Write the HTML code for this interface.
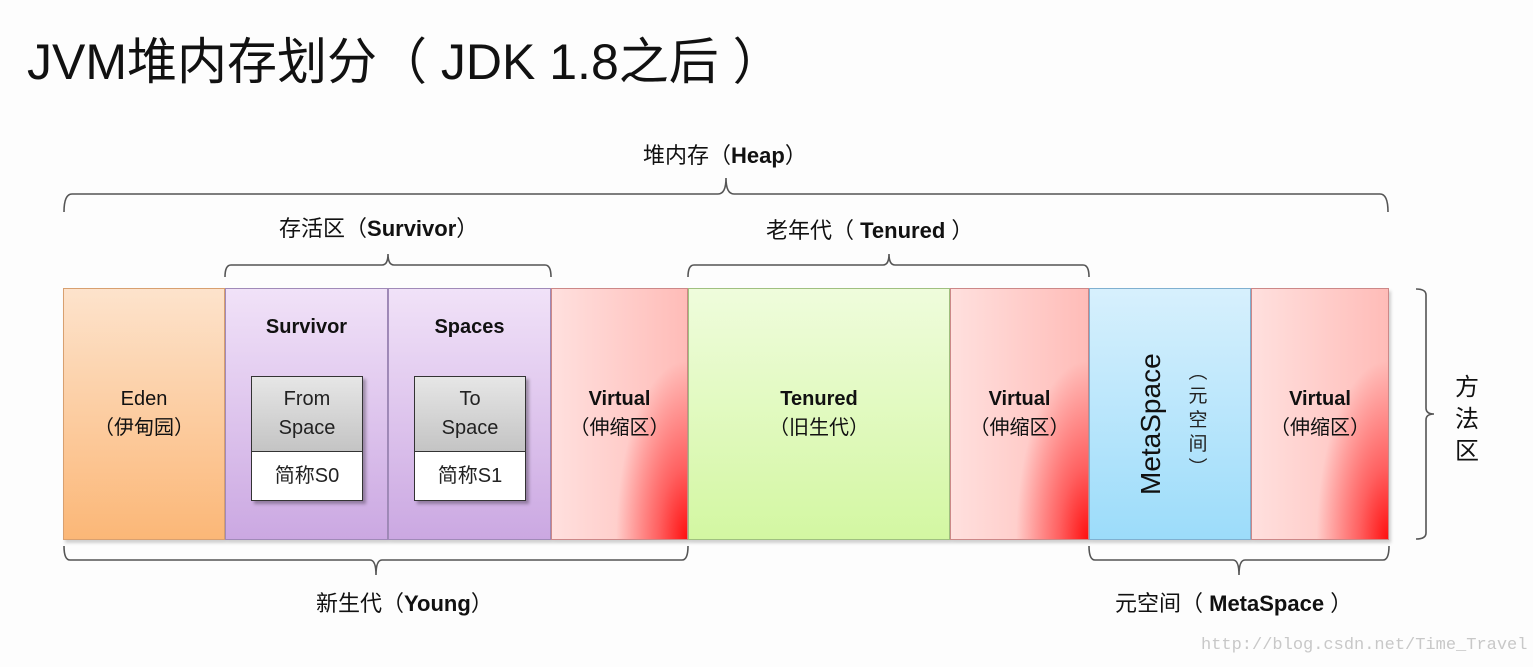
<!DOCTYPE html>
<html><head><meta charset="utf-8"><style>
*{margin:0;padding:0;box-sizing:border-box}
body{width:1533px;height:667px;background:#fdfdfd;position:relative;overflow:hidden;font-family:"Liberation Sans","Noto Sans CJK SC",sans-serif;color:#111}
.a{position:absolute}
.col{position:absolute;top:288px;height:252px;border:1px solid #a08ab8;box-shadow:2px 3px 3px rgba(0,0,0,.18)}
.lbl{position:absolute;width:100%;text-align:center;font-size:20px;line-height:29px}
.b{font-weight:bold}
.red{background:radial-gradient(ellipse 70% 95% at 100% 100%,#ff1010 0%,#ff6060 30%,rgba(255,170,170,0) 75%),linear-gradient(to right,#ffe0de,#ffbcb8);border-color:#c88}
.inner{position:absolute;width:112px;height:125px;border:1px solid #333;background:#fff;box-shadow:3px 3px 3px rgba(0,0,0,.3)}
.inner .g{height:75px;background:linear-gradient(#e6e6e6,#c4c4c4);border-bottom:1px solid #333;text-align:center;font-size:20px;line-height:29px;padding-top:8px;color:#222}
.inner .w{text-align:center;font-size:20px;line-height:48px;color:#222}
.t{position:absolute;font-size:22px;white-space:nowrap}
</style></head><body>
<div class="a" style="left:27px;top:30px;font-size:50px;line-height:64px;color:#111;white-space:nowrap">JVM堆内存划分（ JDK 1.8之后 ）</div>

<div class="t" style="left:643px;top:138px">堆内存（<b>Heap</b>）</div>
<div class="t" style="left:279px;top:211px">存活区（<b>Survivor</b>）</div>
<div class="t" style="left:766px;top:213px">老年代（ <b>Tenured</b> ）</div>
<div class="t" style="left:316px;top:586px">新生代（<b>Young</b>）</div>
<div class="t" style="left:1115px;top:586px">元空间（ <b>MetaSpace</b> ）</div>
<div class="a" style="left:1455px;top:372px;font-size:24px;line-height:32px;width:26px">方<br>法<br>区</div>

<svg class="a" style="left:0;top:0" width="1533" height="667" fill="none" stroke="#555" stroke-width="1.6">
<path d="M64 212 Q64 194 72 194 L718 194 Q726 194 726 178 Q726 194 734 194 L1380 194 Q1388 194 1388 212"/>
<path d="M225 277 Q225 265 231 265 L382 265 Q388 265 388 254 Q388 265 394 265 L545 265 Q551 265 551 277"/>
<path d="M688 277 Q688 265 694 265 L883 265 Q889 265 889 254 Q889 265 895 265 L1083 265 Q1089 265 1089 277"/>
<path d="M64 546 Q64 560 70 560 L370 560 Q376 560 376 575 Q376 560 382 560 L682 560 Q688 560 688 546"/>
<path d="M1089 546 Q1089 560 1095 560 L1233 560 Q1239 560 1239 575 Q1239 560 1245 560 L1383 560 Q1389 560 1389 546"/>
<path d="M1416 289 Q1426 289 1426 295 L1426 408 Q1426 414 1434 414 Q1426 414 1426 420 L1426 533 Q1426 539 1416 539"/>
</svg>

<div class="col" style="left:63px;width:162px;background:linear-gradient(#fde3cc,#fbb777);border-color:#d8a070"><div class="lbl" style="top:96px">Eden<br>（伊甸园）</div></div>
<div class="col" style="left:225px;width:163px;background:linear-gradient(#f1e2f8,#cba8e2)"><div class="lbl b" style="top:24px">Survivor</div>
<div class="inner" style="left:25px;top:87px"><div class="g">From<br>Space</div><div class="w">简称S0</div></div></div>
<div class="col" style="left:388px;width:163px;background:linear-gradient(#f1e2f8,#cba8e2)"><div class="lbl b" style="top:24px">Spaces</div>
<div class="inner" style="left:25px;top:87px"><div class="g">To<br>Space</div><div class="w">简称S1</div></div></div>
<div class="col red" style="left:551px;width:137px"><div class="lbl" style="top:96px"><b>Virtual</b><br>（伸缩区）</div></div>
<div class="col" style="left:688px;width:262px;background:linear-gradient(#effcdc,#d3f7a2);border-color:#a0c080"><div class="lbl" style="top:96px"><b>Tenured</b><br>（旧生代）</div></div>
<div class="col red" style="left:950px;width:139px"><div class="lbl" style="top:96px"><b>Virtual</b><br>（伸缩区）</div></div>
<div class="col" style="left:1089px;width:162px;background:linear-gradient(#d7f0fd,#9cdcfa);border-color:#80b0d0">
<div class="a" style="left:45px;top:206px;transform:rotate(-90deg);transform-origin:0 0;font-size:28px;line-height:32px;white-space:nowrap">MetaSpace</div>
<div class="a" style="left:98px;top:72px;width:20px;font-size:19px;line-height:24px;text-align:center;color:#222">︵<br>元<br>空<br>间<br>︶</div></div>
<div class="col red" style="left:1251px;width:138px"><div class="lbl" style="top:96px"><b>Virtual</b><br>（伸缩区）</div></div>

<div class="a" style="left:1201px;top:636px;font-family:'Liberation Mono',monospace;font-size:17px;color:#c8c8c8;white-space:nowrap">http://blog.csdn.net/Time_Travel</div>
</body></html>
